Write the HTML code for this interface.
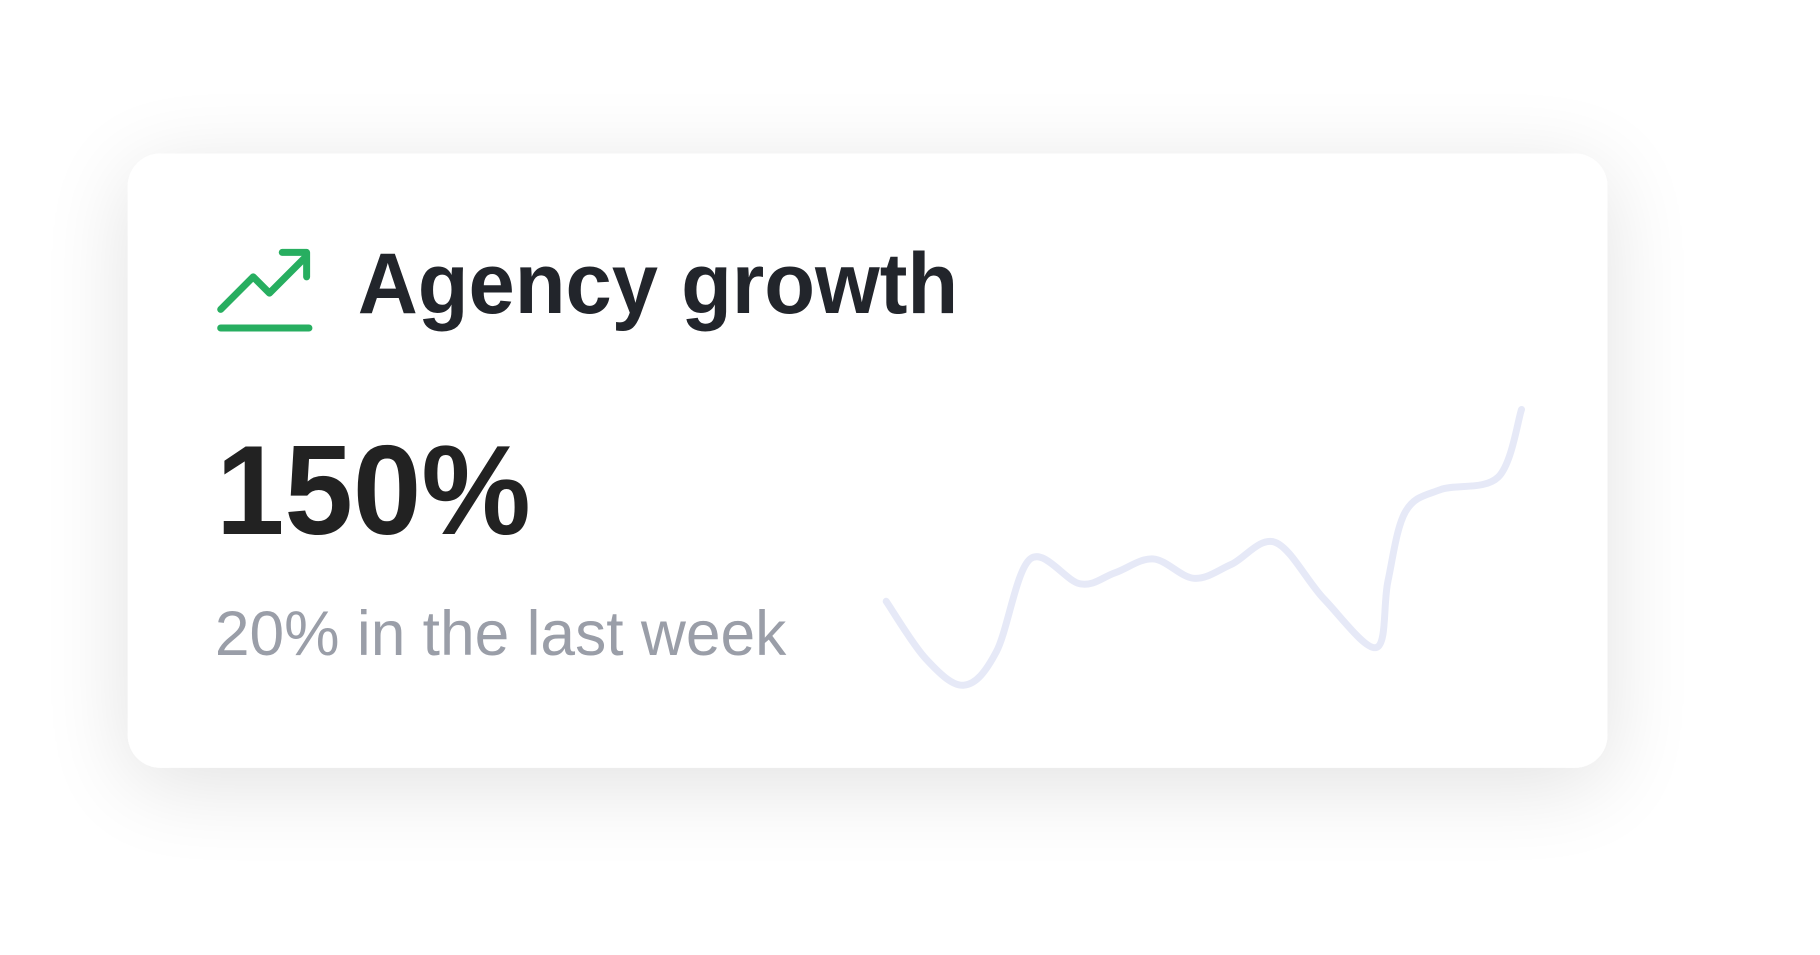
<!DOCTYPE html>
<html><head><meta charset="utf-8"><style>
html,body{margin:0;padding:0;background:#fff;width:1820px;height:955px;overflow:hidden}
</style></head><body>
<svg width="1820" height="955" viewBox="0 0 1567 821" preserveAspectRatio="none" xmlns="http://www.w3.org/2000/svg">
<defs>
<filter id="sh" x="-30%" y="-50%" width="160%" height="200%">
<feGaussianBlur in="SourceAlpha" stdDeviation="38"/>
<feOffset dy="14"/>
<feComponentTransfer><feFuncA type="linear" slope="0.12"/></feComponentTransfer>
<feMerge><feMergeNode/><feMergeNode in="SourceGraphic"/></feMerge>
</filter>
</defs>
<rect x="110" y="132" width="1274" height="528" rx="28" fill="#fff" filter="url(#sh)"/>
<g fill="none" stroke="#27ae60" stroke-width="6" stroke-linecap="round" stroke-linejoin="round">
<polyline points="190,266 218,238 232,252 262,222"/>
<polyline points="243,217 264,217 264,238"/>
<line x1="190" y1="282" x2="266" y2="282"/>
</g>
<text x="308" y="269" font-family="Liberation Sans, sans-serif" font-weight="bold" font-size="74" fill="#22252b" textLength="517" lengthAdjust="spacingAndGlyphs">Agency growth</text>
<text x="186" y="459" font-family="Liberation Sans, sans-serif" font-weight="bold" font-size="109" fill="#222" textLength="271" lengthAdjust="spacingAndGlyphs">150%</text>
<text x="185" y="563" font-family="Liberation Sans, sans-serif" font-size="54" fill="#9a9ea8" textLength="492" lengthAdjust="spacingAndGlyphs">20% in the last week</text>
<g id="spark"></g>
</svg>
<script>
const times = [0,34,67,95,124,167,197,230,265,297,335,377,422,432,447,477,527,547];
const values = [30.7,10,0.4,12.6,46,37,41,46,39,44,52,31.5,14,38,63,71,75.6,100];
const xScale = t => 763 + t;
const yScale = v => 590 - v * 2.38;
const pts = times.map((t,i)=>[xScale(t), yScale(values[i])]);
let d = 'M' + pts[0][0] + ',' + pts[0][1];
for (let i=0;i<pts.length-1;i++){
  const p0=pts[Math.max(0,i-1)], p1=pts[i], p2=pts[i+1], p3=pts[Math.min(pts.length-1,i+2)];
  const c1=[p1[0]+(p2[0]-p0[0])/6, p1[1]+(p2[1]-p0[1])/6];
  const c2=[p2[0]-(p3[0]-p1[0])/6, p2[1]-(p3[1]-p1[1])/6];
  d += ' C'+c1[0]+','+c1[1]+' '+c2[0]+','+c2[1]+' '+p2[0]+','+p2[1];
}
const path = document.createElementNS('http://www.w3.org/2000/svg','path');


path.setAttribute('d', d);
path.setAttribute('fill','none');
path.setAttribute('stroke','#e6e9f7');
path.setAttribute('stroke-width','6');
path.setAttribute('stroke-linecap','round');
document.getElementById('spark').appendChild(path);
</script>
</body></html>
